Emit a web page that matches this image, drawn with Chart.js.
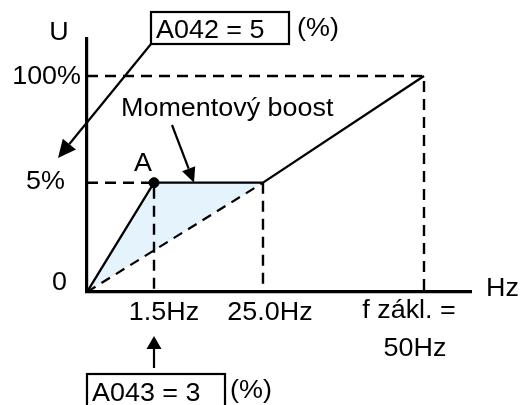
<!DOCTYPE html>
<html>
<head>
<meta charset="utf-8">
<script src="https://cdn.jsdelivr.net/npm/chart.js"></script>
<style>
  html, body { margin: 0; padding: 0; background: #fff; }
  #wrap { width: 528px; height: 405px; }
</style>
</head>
<body>
<div id="wrap"><canvas id="vf" width="528" height="405"></canvas></div>
<script>
// V/f charakteristika s momentovym boostem (A042 / A043)
const freqHz     = [0, 1.5, 25, 50];     // body krivky U/f
const voltagePct = [0, 5, 5, 100];
const refFreq    = [0, 25];              // prima U/f bez boostu (carkovane)
const refVolt    = [0, 5];
const boostFreq  = [0, 1.5, 25];         // vyplnena oblast boostu
const boostVolt  = [0, 5, 5];
const pointA     = { x: 1.5, y: 5 };

const xTickValues = [1.5, 25, 50];
const xTickLabels = ['1.5Hz', '25.0Hz', ['f zákl. =', '50Hz']];
const yTickValues = [0, 5, 100];
const yTickLabels = ['0', '5%', '100%'];

const paramA042 = 'A042 = 5';
const paramA043 = 'A043 = 3';

// schematicka (nelinearni) osa: hodnota -> podil delky osy
const X_KNOTS = [[0, 0], [1.5, 0.1745], [25, 0.4583], [50, 0.8776], [57, 1]];
const Y_KNOTS = [[0, 0], [5, 0.432], [100, 0.854], [133, 1]];

function interp(knots, v, from, to) {
  for (let i = 0; i < knots.length - 1; i++) {
    const a = knots[i], b = knots[i + 1];
    if (v <= b[from] || i === knots.length - 2) {
      const t = (v - a[from]) / (b[from] - a[from]);
      return a[to] + t * (b[to] - a[to]);
    }
  }
  return 0;
}

class SchematicScale extends Chart.LinearScale {
  knots() { return this.axis === 'x' ? X_KNOTS : Y_KNOTS; }
  getPixelForValue(v) {
    if (v === null || isNaN(v)) return NaN;
    return this.getPixelForDecimal(interp(this.knots(), v, 0, 1));
  }
  getValueForPixel(p) {
    return interp(this.knots(), this.getDecimalForPixel(p), 1, 0);
  }
}
SchematicScale.id = 'schematic';
SchematicScale.defaults = Chart.LinearScale.defaults;
Chart.register(SchematicScale);

const pts = (xs, ys) => xs.map((x, i) => ({ x: x, y: ys[i] }));

// pomocne carkovane cary z hodnot krivky
const guides = [
  { x: 0, y: voltagePct[3] }, { x: freqHz[3], y: voltagePct[3] }, { x: freqHz[3], y: 0 }, { x: freqHz[3], y: null },
  { x: 0, y: voltagePct[1] }, { x: freqHz[1], y: voltagePct[1] }, { x: freqHz[1], y: 0 }, { x: freqHz[1], y: null },
  { x: freqHz[2], y: voltagePct[2] }, { x: freqHz[2], y: 0 }
];

const FONT = '26px "Liberation Sans", Arial, sans-serif';
const STRETCH = 1.035;

function txt(ctx, s, x, y, align) {
  ctx.save();
  ctx.translate(x, y);
  ctx.scale(STRETCH, 1);
  ctx.textAlign = align || 'left';
  ctx.textBaseline = 'alphabetic';
  ctx.fillText(s, 0, 0);
  ctx.restore();
}

function arrow(ctx, x1, y1, x2, y2, len, wid) {
  const a = Math.atan2(y2 - y1, x2 - x1);
  const bx = x2 - len * Math.cos(a), by = y2 - len * Math.sin(a);
  ctx.beginPath();
  ctx.moveTo(x1, y1);
  ctx.lineTo(bx, by);
  ctx.stroke();
  ctx.beginPath();
  ctx.moveTo(x2, y2);
  ctx.lineTo(bx + wid / 2 * Math.sin(a), by - wid / 2 * Math.cos(a));
  ctx.lineTo(bx - wid / 2 * Math.sin(a), by + wid / 2 * Math.cos(a));
  ctx.closePath();
  ctx.fill();
}

const labelsPlugin = {
  id: 'labels',
  afterDraw(chart) {
    const ctx = chart.ctx, xs = chart.scales.x, ys = chart.scales.y;
    ctx.save();
    ctx.fillStyle = '#000';
    ctx.strokeStyle = '#000';
    ctx.font = FONT;

    // osy
    txt(ctx, 'U', 59, 40, 'center');
    txt(ctx, 'Hz', 486, 296, 'left');

    // y popisky
    const yOff = [[67, -2], [65, 6.5], [81, 8]];
    yTickValues.forEach((v, i) => {
      txt(ctx, yTickLabels[i], yOff[i][0], ys.getPixelForValue(v) + yOff[i][1], 'right');
    });

    // x popisky
    const xOff = [[10, 320], [7, 320], [-15, 318]];
    xTickValues.forEach((v, i) => {
      const lab = xTickLabels[i];
      const px = xs.getPixelForValue(v);
      if (Array.isArray(lab)) {
        txt(ctx, lab[0], px + xOff[i][0], xOff[i][1], 'center');
        txt(ctx, lab[1], px - 9, xOff[i][1] + 38, 'center');
      } else {
        txt(ctx, lab, px + xOff[i][0], xOff[i][1], 'center');
      }
    });

    const ax = xs.getPixelForValue(pointA.x), ay = ys.getPixelForValue(pointA.y);
    txt(ctx, 'A', ax - 11, ay - 12, 'center');
    txt(ctx, 'Momentový boost', 121, 116, 'left');

    // parametry
    ctx.lineWidth = 2.2;
    ctx.strokeRect(151, 12, 138, 32);
    txt(ctx, paramA042, 156, 38, 'left');
    txt(ctx, '(%)', 297, 36, 'left');
    ctx.strokeRect(87, 374, 138, 40);
    txt(ctx, paramA043, 92, 401, 'left');
    txt(ctx, '(%)', 230, 398, 'left');

    // sipky
    arrow(ctx, 151, 44, 58, 158, 18, 17);
    arrow(ctx, 172, 125, ax + 40, ay, 15, 14);
    arrow(ctx, ax, 368, ax, 336, 13, 15);
    ctx.restore();
  }
};

new Chart(document.getElementById('vf'), {
  type: 'line',
  data: {
    datasets: [
      {
        data: pts(freqHz, voltagePct),
        borderColor: '#000', borderWidth: 2.3, pointRadius: 0, tension: 0, fill: false
      },
      {
        data: pts(refFreq, refVolt),
        borderColor: '#000', borderWidth: 2.2, borderDash: [10, 7], pointRadius: 0, fill: false
      },
      {
        data: guides,
        borderColor: '#000', borderWidth: 2.4, borderDash: [11, 7], pointRadius: 0, spanGaps: false, fill: false
      },
      {
        data: pts(boostFreq, boostVolt).concat([{ x: boostFreq[0], y: boostVolt[0] }]),
        borderWidth: 0, borderColor: 'rgba(0,0,0,0)', backgroundColor: '#e5f3fc',
        pointRadius: 0, fill: 'shape', order: 10
      },
      {
        data: [pointA],
        showLine: false, pointRadius: 5, pointBackgroundColor: '#000', pointBorderColor: '#000', order: -1
      }
    ]
  },
  options: {
    responsive: false,
    animation: false,
    layout: { padding: { left: 87, right: 57, top: 39, bottom: 113 } },
    plugins: { legend: { display: false }, tooltip: { enabled: false } },
    scales: {
      x: {
        type: 'schematic', min: 0, max: 57,
        ticks: { display: false }, grid: { display: false, drawTicks: false },
        border: { display: true, color: '#000', width: 3.2 }
      },
      y: {
        type: 'schematic', min: 0, max: 133,
        ticks: { display: false }, grid: { display: false, drawTicks: false },
        border: { display: true, color: '#000', width: 3.2 }
      }
    }
  },
  plugins: [labelsPlugin]
});
</script>
</body>
</html>
